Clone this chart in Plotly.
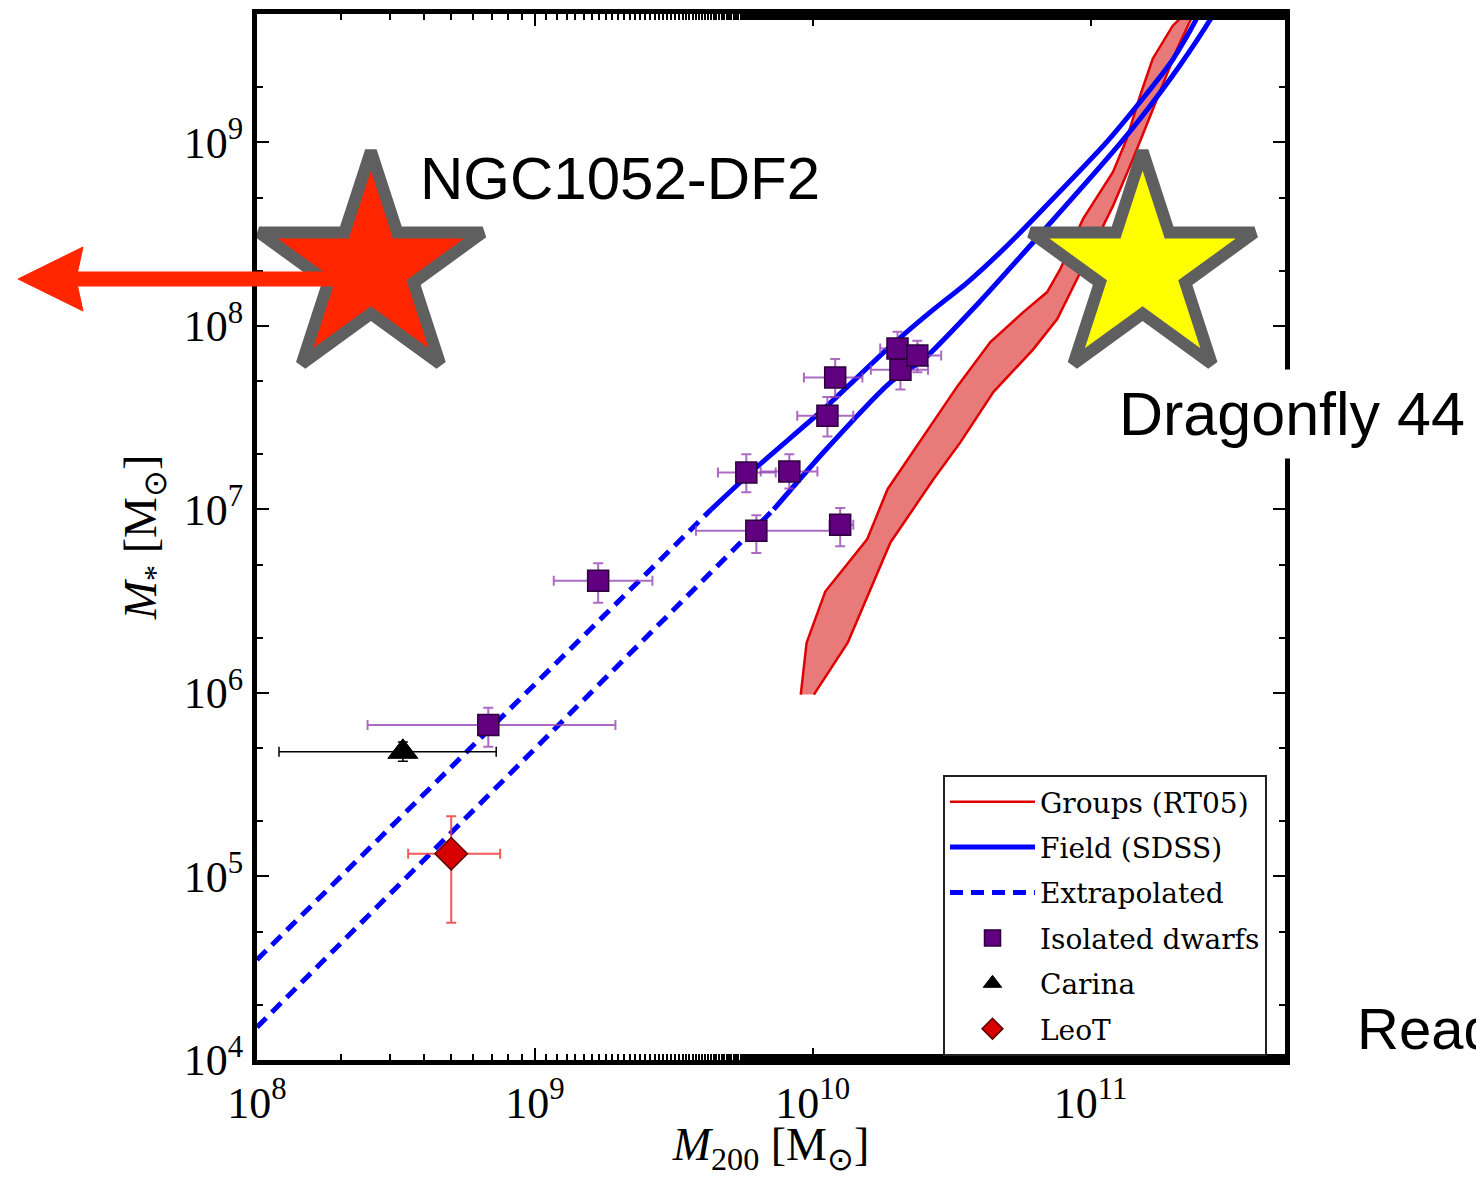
import plotly.graph_objects as go

# ---------------- data ----------------
# Groups (RT05) band: upper-left and lower-right edges
band_upper_m200 = [9.06e9, 9.51e9, 1.11e10, 1.57e10, 1.86e10, 2.51e10, 3.32e10, 4.36e10, 5.73e10,
                   6.98e10, 7.78e10, 9.40e10, 1.205e11, 1.35e11, 1.507e11, 1.675e11, 1.977e11, 2.15e11, 2.34e11]
band_upper_mstar = [9.8e5, 1.88e6, 3.57e6, 6.87e6, 1.29e7, 2.51e7, 4.70e7, 8.17e7, 1.19e8,
                    1.53e8, 2.04e8, 3.83e8, 6.90e8, 1.045e9, 1.795e9, 2.86e9, 4.33e9, 4.90e9, 6.0e9]
band_lower_m200 = [1.01e10, 1.337e10, 1.905e10, 2.72e10, 3.40e10, 4.47e10, 6.22e10, 7.59e10, 9.70e10,
                   1.205e11, 1.422e11, 1.675e11, 2.05e11, 2.33e11, 2.51e11]
band_lower_mstar = [9.8e5, 1.88e6, 6.61e6, 1.46e7, 2.32e7, 4.36e7, 7.46e7, 1.09e8, 2.31e8,
                    4.51e8, 8.13e8, 1.524e9, 3.24e9, 4.90e9, 6.0e9]

# Field (SDSS) relations
field_hi_m200 = [4.31e9, 6.34e9, 1.094e10, 1.905e10, 2.65e10, 3.61e10, 4.9e10, 6.59e10, 1.145e11, 1.507e11, 1.98e11, 2.43e11, 2.69e11]
field_hi_mstar = [1.0e7, 1.72e7, 3.52e7, 7.76e7, 1.19e8, 1.73e8, 2.65e8, 4.18e8, 1.007e9, 1.66e9, 2.84e9, 4.87e9, 7.76e9]
field_lo_m200 = [7.24e9, 1.094e10, 1.905e10, 2.51e10, 4.0e10, 6.22e10, 1.145e11, 1.507e11, 2.09e11, 2.75e11, 3.02e11]
field_lo_mstar = [1.0e7, 2.05e7, 4.93e7, 6.59e7, 1.36e8, 2.86e8, 8.13e8, 1.343e9, 2.61e9, 4.90e9, 6.3e9]

# Extrapolated parts
extrap_hi_m200 = [1.0e8, 4.31e9]
extrap_hi_mstar = [3.52e4, 1.0e7]
extrap_lo_m200 = [1.0e8, 7.24e9]
extrap_lo_mstar = [1.51e4, 1.0e7]

# Isolated dwarfs
iso_m200 = [6.8e8, 1.69e9, 5.77e9, 8.24e9, 6.27e9, 1.256e10, 1.13e10, 1.205e10, 2.02e10, 2.07e10, 2.38e10]
iso_mstar = [6.7e5, 4.09e6, 1.59e7, 1.61e7, 7.66e6, 8.26e6, 3.24e7, 5.24e7, 7.54e7, 5.78e7, 6.9e7]
iso_m200_lo = [2.5e8, 1.17e9, 4.56e9, 6.5e9, 3.8e9, 1.15e10, 8.8e9, 9.3e9, 1.75e10, 1.62e10, 2.0e10]
iso_m200_hi = [1.95e9, 2.65e9, 7.36e9, 1.04e10, 1.25e10, 1.4e10, 1.4e10, 1.51e10, 2.4e10, 2.6e10, 2.9e10]
iso_mstar_lo = [5.1e5, 3.1e6, 1.24e7, 1.3e7, 5.8e6, 6.3e6, 2.5e7, 4.1e7, 6.0e7, 4.5e7, 5.6e7]
iso_mstar_hi = [8.3e5, 5.1e6, 2.0e7, 2.0e7, 9.3e6, 1.02e7, 4.1e7, 6.6e7, 9.3e7, 7.0e7, 8.3e7]

# Carina
car_m200 = [3.35e8]
car_mstar = [4.78e5]
car_m200_lo = [1.2e8]
car_m200_hi = [7.26e8]
car_mstar_lo = [4.25e5]
car_mstar_hi = [5.4e5]

# LeoT
leo_m200 = [5.0e8]
leo_mstar = [1.33e5]
leo_m200_lo = [3.5e8]
leo_m200_hi = [7.5e8]
leo_mstar_lo = [5.6e4]
leo_mstar_hi = [2.13e5]

# UDG stars
df2_m200 = [2.57e8]
df2_mstar = [2.05e8]
df44_m200 = [1.54e11]
df44_mstar = [2.05e8]

x_tickvals = [1e8, 1e9, 1e10, 1e11]
x_ticktext = ["10<sup>8</sup>", "10<sup>9</sup>", "10<sup>10</sup>", "10<sup>11</sup>"]
y_tickvals = [1e4, 1e5, 1e6, 1e7, 1e8, 1e9]
y_ticktext = ["10<sup>4</sup>", "10<sup>5</sup>", "10<sup>6</sup>", "10<sup>7</sup>", "10<sup>8</sup>", "10<sup>9</sup>"]

# ---------------- figure ----------------
SERIF = "Liberation Serif"
LEG_FONT = "DejaVu Serif"
SANS = "Liberation Sans"


def plus(v, hi):
    return [h - x for x, h in zip(v, hi)]


def minus(v, lo):
    return [x - l for x, l in zip(v, lo)]


fig = go.Figure()

# red band
fig.add_trace(go.Scatter(
    x=band_upper_m200 + band_lower_m200[::-1],
    y=band_upper_mstar + band_lower_mstar[::-1],
    mode="lines", fill="toself", fillcolor="rgb(232,122,122)",
    line=dict(width=0), showlegend=False, hoverinfo="skip"))
fig.add_trace(go.Scatter(x=band_upper_m200, y=band_upper_mstar, mode="lines",
                         line=dict(color="#e00000", width=2.5), name="Groups (RT05)",
                         legendgroup="g1", legendrank=1))
fig.add_trace(go.Scatter(x=band_lower_m200, y=band_lower_mstar, mode="lines",
                         line=dict(color="#e00000", width=2.5), showlegend=False))

# blue field lines
fig.add_trace(go.Scatter(x=field_hi_m200, y=field_hi_mstar, mode="lines",
                         line=dict(color="#0000ff", width=5, shape="spline", smoothing=0.6),
                         name="Field (SDSS)", legendgroup="g2", legendrank=2))
fig.add_trace(go.Scatter(x=field_lo_m200, y=field_lo_mstar, mode="lines",
                         line=dict(color="#0000ff", width=5, shape="spline", smoothing=0.6),
                         showlegend=False))
fig.add_trace(go.Scatter(x=extrap_hi_m200, y=extrap_hi_mstar, mode="lines",
                         line=dict(color="#0000ff", width=5, dash="13px,8px"), name="Extrapolated",
                         legendgroup="g3", legendrank=3))
fig.add_trace(go.Scatter(x=extrap_lo_m200, y=extrap_lo_mstar, mode="lines",
                         line=dict(color="#0000ff", width=5, dash="13px,8px"), showlegend=False))

# isolated dwarfs
fig.add_trace(go.Scatter(
    x=iso_m200, y=iso_mstar, mode="markers", name="Isolated dwarfs",
    legendgroup="g4", legendrank=4,
    marker=dict(symbol="square", size=21, color="rgb(96,0,128)",
                line=dict(color="rgb(45,0,60)", width=1.5)),
    error_x=dict(type="data", symmetric=False, array=plus(iso_m200, iso_m200_hi),
                 arrayminus=minus(iso_m200, iso_m200_lo), color="rgba(150,70,180,0.8)",
                 thickness=2, width=5),
    error_y=dict(type="data", symmetric=False, array=plus(iso_mstar, iso_mstar_hi),
                 arrayminus=minus(iso_mstar, iso_mstar_lo), color="rgba(150,70,180,0.8)",
                 thickness=2, width=5)))

# Carina
fig.add_trace(go.Scatter(
    x=car_m200, y=car_mstar, mode="markers", name="Carina",
    legendgroup="g5", legendrank=5,
    marker=dict(symbol="triangle-up", size=26, color="black", line=dict(color="black", width=1)),
    error_x=dict(type="data", symmetric=False, array=plus(car_m200, car_m200_hi),
                 arrayminus=minus(car_m200, car_m200_lo), color="black", thickness=1.5, width=5),
    error_y=dict(type="data", symmetric=False, array=plus(car_mstar, car_mstar_hi),
                 arrayminus=minus(car_mstar, car_mstar_lo), color="black", thickness=1.5, width=5)))

# LeoT
fig.add_trace(go.Scatter(
    x=leo_m200, y=leo_mstar, mode="markers", name="LeoT",
    legendgroup="g6", legendrank=6,
    marker=dict(symbol="diamond", size=25, color="#d60000", line=dict(color="rgb(90,0,0)", width=1.5)),
    error_x=dict(type="data", symmetric=False, array=plus(leo_m200, leo_m200_hi),
                 arrayminus=minus(leo_m200, leo_m200_lo), color="rgba(240,60,60,0.85)",
                 thickness=2, width=5),
    error_y=dict(type="data", symmetric=False, array=plus(leo_mstar, leo_mstar_hi),
                 arrayminus=minus(leo_mstar, leo_mstar_lo), color="rgba(240,60,60,0.85)",
                 thickness=2, width=5)))

# stars
fig.add_trace(go.Scatter(x=df2_m200, y=df2_mstar, mode="markers", showlegend=False, cliponaxis=False,
                         marker=dict(symbol="star", size=168, color="#ff2600",
                                     line=dict(color="#5f5f5f", width=12))))
fig.add_trace(go.Scatter(x=df44_m200, y=df44_mstar, mode="markers", showlegend=False, cliponaxis=False,
                         marker=dict(symbol="star", size=168, color="#ffff00",
                                     line=dict(color="#5f5f5f", width=12))))

axis_common = dict(
    type="log", showgrid=False, zeroline=False, automargin=False,
    showline=True, linecolor="black", linewidth=5, mirror="allticks",
    ticks="inside", ticklen=12, tickwidth=2, tickcolor="black",
    minor=dict(ticks="inside", ticklen=6, tickwidth=1.5, tickcolor="black", showgrid=False),
    tickfont=dict(family=SERIF, size=44, color="black"),
)

fig.update_xaxes(**axis_common, range=[8, 11.70], tickvals=x_tickvals, ticktext=x_ticktext,
                 title=dict(text="<i>M</i><sub>200</sub> [M<sub>⊙</sub>]",
                            font=dict(family=SERIF, size=46, color="black"), standoff=17))
fig.update_yaxes(**axis_common, range=[4, 9.70], tickvals=y_tickvals, ticktext=y_ticktext,
                 title=dict(text="<i>M</i><sub>*</sub> [M<sub>⊙</sub>]",
                            font=dict(family=SERIF, size=46, color="black"), standoff=14))

# arrow (upper limit on DF2 halo mass), paper coordinates
W, H = 1028.0, 1046.0


def px(xp):
    return (xp - 257) / W


def py(yp):
    return (1060 - yp) / H


fig.update_layout(
    shapes=[
        dict(type="line", xref="paper", yref="paper", x0=px(70), x1=px(345), y0=py(279), y1=py(279),
             line=dict(color="#ff2600", width=15)),
        dict(type="path", xref="paper", yref="paper",
             path=f"M {px(18)},{py(279)} L {px(83)},{py(247)} L {px(76)},{py(279)} L {px(83)},{py(311)} Z",
             fillcolor="#ff2600", line=dict(color="#ff2600", width=1)),
    ],
    annotations=[
        dict(text="NGC1052-DF2", xref="paper", yref="paper", x=px(418), y=py(178),
             xanchor="left", yanchor="middle", showarrow=False,
             font=dict(family=SANS, size=60, color="black")),
        dict(text="Dragonfly 44", xref="paper", yref="paper", x=px(1108), y=py(414),
             xanchor="left", yanchor="middle", showarrow=False, bgcolor="white", borderpad=10,
             font=dict(family=SANS, size=61, color="black")),
        dict(text="Read", xref="paper", yref="paper", x=px(1355), y=py(1028),
             xanchor="left", yanchor="middle", showarrow=False,
             font=dict(family=SANS, size=58, color="black")),
    ],
)

fig.update_layout(
    width=1476, height=1177,
    margin=dict(l=257, r=191, t=14, b=117, pad=0, autoexpand=False),
    paper_bgcolor="white", plot_bgcolor="white",
    showlegend=True,
    legend=dict(x=px(943), y=py(775), xanchor="left", yanchor="top",
                bgcolor="white", bordercolor="#222222", borderwidth=2,
                font=dict(family=LEG_FONT, size=28, color="black"),
                tracegroupgap=6, itemwidth=85),
)

fig.write_html("out.html")
